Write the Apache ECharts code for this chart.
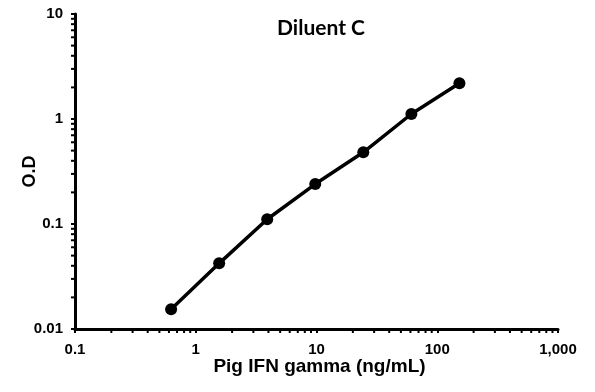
<!DOCTYPE html>
<html><head><meta charset="utf-8">
<script src="https://cdn.jsdelivr.net/npm/echarts@6/dist/echarts.min.js"></script>
<style>html,body{margin:0;padding:0;background:#fff}#c{width:595px;height:392px}</style>
</head><body><div id="c"></div>
<script>
const concentrations = [0.625, 1.5625, 3.906, 9.766, 24.41, 61.04, 152.6];
const odValues = [0.0154, 0.0422, 0.111, 0.240, 0.482, 1.116, 2.19];
const xTickLabels = ['0.1', '1', '10', '100', '1,000'];
const yTickLabels = ['0.01', '0.1', '1', '10'];
const minorMultipliers = [2, 3, 4, 5, 6, 7, 8, 9];
const xDecades = [0.1, 1, 10, 100];
const yDecades = [0.01, 0.1, 1];

const xMinor = [];
xDecades.forEach(d => minorMultipliers.forEach(m => xMinor.push([+(d * m).toPrecision(3), 0.01])));
const yMinor = [];
yDecades.forEach(d => minorMultipliers.forEach(m => yMinor.push([0.1, +(d * m).toPrecision(3)])));

const fontLab = '"Liberation Sans", Arial, sans-serif';
const chart = echarts.init(document.getElementById('c'), null, {renderer: 'canvas'});
chart.setOption({
  animation: false,
  backgroundColor: '#fff',
  title: {
    text: 'Diluent C', left: 316, top: 13, textAlign: 'center',
    textStyle: {fontFamily: 'Lato, "Open Sans", sans-serif', fontWeight: 'bold', fontSize: 21, color: '#000'}
  },
  grid: {left: 75, right: 37, top: 14, bottom: 63, containLabel: false, outerBoundsMode: 'none'},
  xAxis: {
    type: 'log', logBase: 10, min: 0.1, max: 1000,
    name: 'Pig IFN gamma (ng/mL)', nameLocation: 'middle', nameGap: 28, nameMoveOverlap: false,
    nameTextStyle: {fontFamily: fontLab, fontWeight: 'bold', fontSize: 19, color: '#000', padding: [0, 0, 0, 6]},
    axisLine: {lineStyle: {color: '#000', width: 3}},
    axisTick: {show: true, inside: false, length: 4, lineStyle: {color: '#000', width: 2}},
    splitLine: {show: false},
    axisLabel: {
      fontFamily: fontLab, fontWeight: 'bold', fontSize: 15, color: '#000', margin: 13,
      formatter: v => { const i = Math.round(Math.log10(v)) + 1; return xTickLabels[i] || ''; }
    }
  },
  yAxis: {
    type: 'log', logBase: 10, min: 0.01, max: 10,
    name: 'O.D', nameLocation: 'middle', nameGap: 36, nameRotate: 90, nameMoveOverlap: false,
    nameTextStyle: {fontFamily: fontLab, fontWeight: 'bold', fontSize: 18, color: '#000'},
    axisLine: {lineStyle: {color: '#000', width: 3}},
    axisTick: {show: true, inside: false, length: 4, lineStyle: {color: '#000', width: 2}},
    splitLine: {show: false},
    axisLabel: {
      fontFamily: fontLab, fontWeight: 'bold', fontSize: 15, color: '#000', margin: 12,
      formatter: v => { const i = Math.round(Math.log10(v)) + 2; return yTickLabels[i] || ''; }
    }
  },
  series: [
    {
      type: 'line', data: concentrations.map((c, i) => [c, odValues[i]]),
      symbol: 'circle', symbolSize: 12,
      lineStyle: {color: '#000', width: 3.5},
      itemStyle: {color: '#000'}
    },
    {
      type: 'custom', silent: true, clip: false, data: xMinor,
      renderItem: (params, api) => {
        const p = api.coord([api.value(0), api.value(1)]);
        return {type: 'line', shape: {x1: p[0], y1: p[1] + 1, x2: p[0], y2: p[1] + 4},
          style: {stroke: '#000', lineWidth: 2}};
      }
    },
    {
      type: 'custom', silent: true, clip: false, data: yMinor,
      renderItem: (params, api) => {
        const p = api.coord([api.value(0), api.value(1)]);
        return {type: 'line', shape: {x1: p[0] - 1, y1: p[1], x2: p[0] - 4, y2: p[1]},
          style: {stroke: '#000', lineWidth: 2}};
      }
    }
  ]
});
</script></body></html>
